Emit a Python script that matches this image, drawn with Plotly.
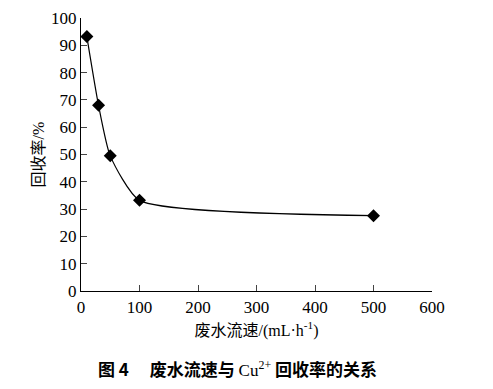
import plotly.graph_objects as go

flow = [10, 30, 50, 100, 500]
recovery = [93.2, 68.0, 49.5, 33.2, 27.6]
x_ticks = [0, 100, 200, 300, 400, 500, 600]
y_ticks = [0, 10, 20, 30, 40, 50, 60, 70, 80, 90, 100]

serif = "Times New Roman"
cjk = "Noto Sans CJK SC"

def ser(t):
    return f"<span style='font-family:{serif}'>{t}</span>"

fig = go.Figure()
fig.add_trace(go.Scatter(
    x=flow, y=recovery, mode="lines+markers",
    line=dict(color="black", width=1.2, shape="spline", smoothing=0.55),
    marker=dict(symbol="diamond", size=10, color="black"),
    showlegend=False,
))

fig.update_layout(
    template="none",
    width=493, height=389,
    margin=dict(l=81, r=61, t=18, b=98),
    paper_bgcolor="white", plot_bgcolor="white",
    font=dict(family=serif, size=16, color="black"),
    xaxis=dict(
        range=[0, 600], tickvals=x_ticks, ticktext=[str(v) for v in x_ticks],
        ticks="inside", ticklen=6,
        tickwidth=1.2, showline=True, linecolor="black", linewidth=1.2,
        showgrid=False, zeroline=False, mirror=False,
        tickfont=dict(family=serif, size=17, color="black"),
        title=dict(text="废水流速" + ser("/(mL·h<sup>-1</sup>)"),
                   font=dict(family=cjk, size=16), standoff=9),
    ),
    yaxis=dict(
        range=[0, 100], tickvals=y_ticks, ticktext=[str(v) for v in y_ticks],
        ticks="inside", ticklen=6,
        tickwidth=1.2, showline=True, linecolor="black", linewidth=1.2,
        showgrid=False, zeroline=False, mirror=False,
        tickfont=dict(family=serif, size=17, color="black"),
        title=dict(text="回收率" + ser("/%"), font=dict(family=cjk, size=16), standoff=2),
    ),
    annotations=[dict(
        text="<b>图 4　 废水流速与 </b>" + ser("Cu<sup>2+</sup>") + "<b> 回收率的关系</b>",
        xref="paper", yref="paper", x=0.447, y=-0.283,
        xanchor="center", yanchor="middle", showarrow=False,
        font=dict(family=cjk, size=17, color="black"),
    )],
)

fig.write_html("out.html")
